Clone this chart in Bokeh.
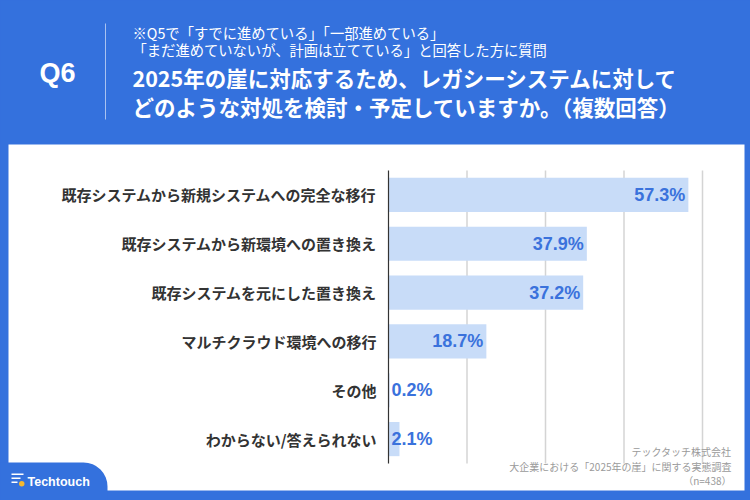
from bokeh.plotting import figure
from bokeh.models import (ColumnDataSource, Range1d, Label, BoxAnnotation,
                          GlobalInlineStyleSheet)
from bokeh.core.properties import value
from bokeh.embed import file_html
from bokeh.resources import INLINE

# ---------------- data ----------------
categories = [
    "既存システムから新規システムへの完全な移行",
    "既存システムから新環境への置き換え",
    "既存システムを元にした置き換え",
    "マルチクラウド環境への移行",
    "その他",
    "わからない/答えられない",
]
percentages = [57.3, 37.9, 37.2, 18.7, 0.2, 2.1]
grid_ticks = [15, 30, 45, 60]

question_no = "Q6"
note_lines = [
    "※Q5で「すでに進めている」「一部進めている」",
    "「まだ進めていないが、計画は立てている」と回答した方に質問",
]
title_lines = [
    "2025年の崖に対応するため、レガシーシステムに対して",
    "どのような対処を検討・予定していますか。（複数回答）",
]
source_lines = [
    "テックタッチ株式会社",
    "大企業における「2025年の崖」に関する実態調査",
    "（n=438）",
]
brand = "Techtouch"

# ---------------- styles / layout ----------------
BLUE = "#3471DD"
BAR = "#C8DCF8"
VAL = "#3A72DC"
JP = "Noto Sans CJK JP"
W, H = 750, 500
# plot area in canvas pixels
PL, PR, PT, PB = 388, 702, 170, 463
XMAX = 60.0

n = len(categories)
kx = (PR - PL) / XMAX
ky = (PB - PT) / n
x_range = Range1d(-PL / kx, (W - PL) / kx)
y_range = Range1d(-0.5 - (H - PB) / ky, n - 0.5 + PT / ky)

ypos = [n - 1 - i for i in range(n)]
labels = [f"{v:.1f}%" for v in percentages]
inside = [v >= 10 for v in percentages]
src = ColumnDataSource(dict(
    y=ypos,
    cat=categories,
    val=percentages,
    label=labels,
    lx=[v if i else 0 for v, i in zip(percentages, inside)],
    align=["right" if i else "left" for i in inside],
    xoff=[-3 if i else 3 for i in inside],
    zero=[0] * n,
))

p = figure(width=W, height=H, output_backend="svg", toolbar_location=None,
           x_range=x_range, y_range=y_range, min_border=0,
           x_axis_location=None, y_axis_location=None)
p.stylesheets = [GlobalInlineStyleSheet(css=f"html, body {{ background-color: {BLUE}; }}")]
p.border_fill_color = BLUE
p.background_fill_color = BLUE
p.outline_line_color = None
p.xgrid.visible = False
p.ygrid.visible = False


def box(l, r, t, b, color, radius=0, level="image"):
    p.add_layout(BoxAnnotation(left=l, right=r, top=t, bottom=b,
                               left_units="canvas", right_units="canvas",
                               top_units="canvas", bottom_units="canvas",
                               fill_color=color, fill_alpha=1, line_color=None,
                               border_radius=radius, level=level))


# white panel
box(8, 744, 144, 490, "white")
# brand tab
box(0, 107, 462, 500, BLUE, radius=(0, 24, 0, 0))
# header separator
box(104.5, 105.5, 23, 119, "#A9C2F0", level="annotation")
# logo icon
for (l, r, t) in [(11, 23, 473), (11, 20, 477), (11, 17, 481)]:
    box(l, r, t, t + 1.6, "white", level="annotation")
box(18.5, 24, 480.5, 486, "#F5B82E", radius=3, level="annotation")

# grid lines and axis line through the data scales
p.segment(x0=grid_ticks, x1=grid_ticks, y0=[-0.5] * len(grid_ticks),
          y1=[n - 0.5] * len(grid_ticks), line_color="#D4D4D4", line_width=1.5)
p.hbar(y="y", right="val", left=0, height=0.7, source=src,
       fill_color=BAR, line_color=None)
p.segment(x0=[0], x1=[0], y0=[-0.5], y1=[n - 0.5], line_color="#333333", line_width=1.2)

# category labels
p.text(x="zero", y="y", text="cat", source=src, text_align="right",
       x_offset=-12, text_baseline="middle", text_font=value(JP),
       text_font_style="bold", text_font_size="15px", text_color="#333333")
# value labels
p.text(x="lx", y="y", text="label", source=src, text_align="align",
       x_offset="xoff", text_baseline="middle",
       text_font=value("Liberation Sans"), text_font_style="bold",
       text_font_size="18px", text_color=VAL)


def lab(x, y, text, size, color="white", style="normal", font=JP, align="left"):
    p.add_layout(Label(x=x, y=y, x_units="canvas", y_units="canvas",
                       text=text, text_font=font, text_font_size=size,
                       text_font_style=style, text_color=color,
                       text_align=align, text_baseline="middle"))


lab(57, 72, question_no, "27px", style="bold", font="Liberation Sans", align="center")
lab(132, 32, note_lines[0], "14.3px")
lab(132, 49, note_lines[1], "14.3px")
lab(132, 77, title_lines[0], "21.5px", style="bold")
lab(132, 106, title_lines[1], "21.5px", style="bold")
lab(731, 451, source_lines[0], "10px", color="#9A9A9A", align="right")
lab(731, 466, source_lines[1], "10px", color="#9A9A9A", align="right")
lab(731, 480, source_lines[2], "10px", color="#9A9A9A", align="right")
lab(27, 481, brand, "12.5px", style="bold", font="Liberation Sans")

open("out.html", "w").write(file_html(p, INLINE))
